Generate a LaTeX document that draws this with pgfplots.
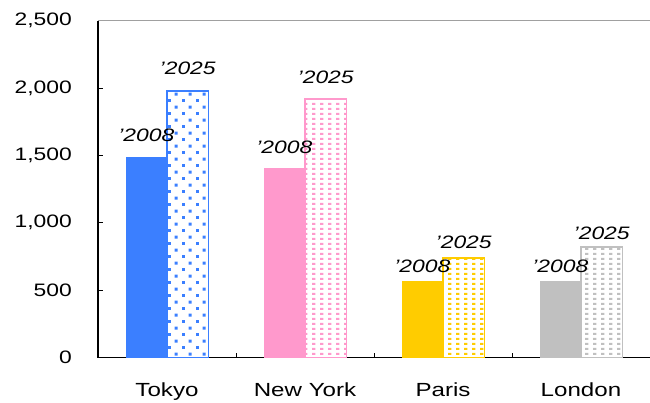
\documentclass[border=0pt]{standalone}
\usepackage{fontspec}
\setmainfont{Liberation Sans}[FakeStretch=1.27]
\usepackage{pgfplots}
\pgfplotsset{compat=1.18}
\usetikzlibrary{patterns.meta}
\definecolor{cblue}{RGB}{59,127,255}
\definecolor{cpink}{RGB}{255,153,204}
\definecolor{cyellow}{RGB}{255,204,0}
\definecolor{cgray}{RGB}{192,192,192}
\definecolor{topgray}{RGB}{160,160,160}
\tikzdeclarepattern{
  name=stagdots, type=uncolored,
  bottom left={(0pt,0pt)}, top right={(14pt,13.4pt)},
  tile size={(14pt,13.4pt)},
  code={\fill (0pt,0pt) rectangle (3pt,3pt); \fill (7pt,6.7pt) rectangle (10pt,9.7pt);}
}
\tikzdeclarepattern{
  name=rectgrid, type=uncolored,
  bottom left={(0pt,0pt)}, top right={(7.6pt,5.3pt)},
  tile size={(7.6pt,5.3pt)},
  code={\fill (0pt,0pt) rectangle (3.6pt,2.5pt);}
}
\pgfplotsset{
  solidbar/.style={ybar, bar width=0.3, bar shift=-0.15, fill=#1, draw=none},
  patbar/.style 2 args={ybar, bar width=0.3, bar shift=0.15, draw=#1, line width=1.6pt, pattern={#2}, pattern color=#1},
  lab/.style n args={3}{nodes near coords={#1}, every node near coord/.append style={font=\fontsize{18pt}{21pt}\selectfont\itshape, anchor=south, inner sep=0pt, xshift=#3, yshift=#2, text=black}},
}
\begin{document}
\begin{tikzpicture}[font=\fontsize{18pt}{21pt}\selectfont]
\begin{axis}[
  at={(98pt,44.5pt)}, anchor=south west,
  width=552pt, height=336.8pt, scale only axis,
  xmin=-0.5, xmax=3.5, ymin=0, ymax=2500,
  axis x line=bottom, axis y line=left,
  axis line style={-, line width=1.5pt, black},
  tick align=inside, major tick length=5pt,
  tick style={line width=1pt, black},
  ytick={0,500,1000,1500,2000,2500},
  /pgf/number format/.cd, 1000 sep={,}, assume math mode=true, /pgfplots/.cd,
  yticklabel style={inner sep=0pt, anchor=east, xshift=-26pt},
  xtick={0.5,1.5,2.5}, xticklabels={},
  extra x ticks={0,1,2,3},
  extra x tick labels={Tokyo,New York,Paris,London},
  extra x tick style={major tick length=0pt},
  xticklabel style={inner sep=0pt, anchor=north, yshift=-25pt, font=\fontsize{19pt}{22pt}\selectfont},
  clip=false,
]
\addplot[solidbar=cblue, lab={'2008}{15pt}{-20.7pt}] coordinates {(0,1490)};
\addplot[patbar={cblue}{stagdots}, lab={'2025}{15pt}{20.7pt}] coordinates {(0,1980)};
\addplot[solidbar=cpink, lab={'2008}{14pt}{-20.7pt}] coordinates {(1,1410)};
\addplot[patbar={cpink}{rectgrid}, lab={'2025}{14pt}{20.7pt}] coordinates {(1,1920)};
\addplot[solidbar=cyellow, lab={'2008}{8pt}{-20.7pt}] coordinates {(2,568)};
\addplot[patbar={cyellow}{rectgrid}, lab={'2025}{8pt}{20.7pt}] coordinates {(2,740)};
\addplot[solidbar=cgray, lab={'2008}{8pt}{-20.7pt}] coordinates {(3,568)};
\addplot[patbar={cgray}{rectgrid}, lab={'2025}{7pt}{20.7pt}] coordinates {(3,820)};
\draw[topgray, line width=1.5pt] (rel axis cs:0,1) -- (rel axis cs:1,1);
\end{axis}
\pgfresetboundingbox
\useasboundingbox (0,0) rectangle (650pt,402pt);
\end{tikzpicture}
\end{document}
